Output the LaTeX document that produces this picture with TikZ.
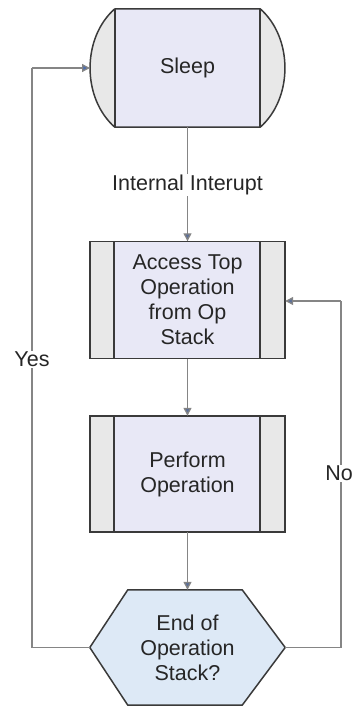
\documentclass[tikz,border=0pt]{standalone}
\usepackage{fontspec}
\setmainfont{Liberation Sans}
\usetikzlibrary{arrows.meta}
\definecolor{boxfill}{HTML}{E8E8F6}
\definecolor{sidefill}{HTML}{E8E8E8}
\definecolor{hexfill}{HTML}{DDE9F6}
\definecolor{edge}{HTML}{3A3A3A}
\definecolor{conn}{HTML}{858585}
\definecolor{tip}{HTML}{5B6F98}
\definecolor{bluetip}{HTML}{4A6CB0}
\tikzset{
  txt/.style={font=\fontsize{21.5}{25}\selectfont, align=center, text=black!85},
  procbox/.style={txt, rectangle, minimum width=195pt, minimum height=117pt, inner sep=0pt},
  conn/.style={draw=conn, line width=1.3pt, -{Triangle[width=8pt,length=8pt,fill=tip]}, shorten >=0pt},
  plain/.style={draw=conn, line width=1.3pt},
  lbl/.style={txt, fill=white, inner sep=1pt},
  outline/.style={draw=edge, line width=1.5pt}
}
\begin{document}
\begin{tikzpicture}[x=1pt,y=-1pt]
\useasboundingbox (0,0) rectangle (357,707);

% Sleep (terminator with curved ends)
\node[procbox, minimum width=145pt, minimum height=118pt] (sleep) at (187.5,68) {};
\fill[sidefill] (sleep.north west) .. controls ++(-33,29) and ++(-33,-29) .. (sleep.south west) -- cycle;
\fill[sidefill] (sleep.north east) .. controls ++(33,29) and ++(33,-29) .. (sleep.south east) -- cycle;
\fill[boxfill] (sleep.north west) rectangle (sleep.south east);
\draw[outline] (sleep.north west) -- (sleep.north east)
  .. controls ++(33,29) and ++(33,-29) .. (sleep.south east)
  -- (sleep.south west)
  .. controls ++(-33,-29) and ++(-33,29) .. (sleep.north west);
\draw[outline] (sleep.north west) -- (sleep.south west);
\draw[outline] (sleep.north east) -- (sleep.south east);
\node[txt] (sleeptext) at (sleep.center) {Sleep};
\coordinate (sleepin) at (90,68);

% Access Top Operation
\node[procbox] (access) at (187.5,300) {};
\fill[sidefill] (access.north west) rectangle (access.south east);
\fill[boxfill] ([xshift=24pt]access.north west) rectangle ([xshift=-25pt]access.south east);
\draw[outline] (access.north west) rectangle (access.south east);
\draw[outline] ([xshift=24pt]access.north west) -- ([xshift=24pt]access.south west);
\draw[outline] ([xshift=-25pt]access.north east) -- ([xshift=-25pt]access.south east);
\node[txt] (accesstext) at (access.center) {Access Top\\Operation\\from Op\\Stack};

% Perform Operation
\node[procbox, minimum height=116pt] (perform) at (187.5,474) {};
\fill[sidefill] (perform.north west) rectangle (perform.south east);
\fill[boxfill] ([xshift=24pt]perform.north west) rectangle ([xshift=-25pt]perform.south east);
\draw[outline] (perform.north west) rectangle (perform.south east);
\draw[outline] ([xshift=24pt]perform.north west) -- ([xshift=24pt]perform.south west);
\draw[outline] ([xshift=-25pt]perform.north east) -- ([xshift=-25pt]perform.south east);
\node[txt] (performtext) at (perform.center) {Perform\\Operation};

% Decision hexagon
\node[procbox, minimum height=115pt] (hex) at (187.5,647.5) {};
\draw[outline, fill=hexfill] (hex.west) -- ([xshift=38pt]hex.north west) -- ([xshift=-43pt]hex.north east)
  -- (hex.east) -- ([xshift=-43pt]hex.south east) -- ([xshift=38pt]hex.south west) -- cycle;
\node[txt] (hextext) at (hex.center) {End of\\Operation\\Stack?};

% Connectors
\draw[conn] (sleep.south) -- (access.north);
\node[lbl] (intlbl) at (187.5,185) {Internal Interupt};
\draw[conn] (access.south) -- (perform.north);
\draw[conn] (perform.south) -- (hex.north);

\coordinate (yl1) at (32,647.5);
\coordinate (yl2) at (32,68);
\draw[plain] (hex.west) -- (yl1) -- (yl2);
\draw[draw=conn, line width=1.3pt, -{Triangle[width=8pt,length=8pt,fill=bluetip]}] (yl2) -- (sleepin);
\node[lbl] (yes) at (32,359) {Yes};

\coordinate (nl1) at (341,647.5);
\coordinate (nl2) at (341,301);
\draw[plain] (hex.east) -- (nl1) -- (nl2);
\draw[draw=conn, line width=1.3pt, -{Triangle[width=8pt,length=8pt,fill=tip]}] (nl2) -- (access.east |- nl2);
\node[lbl] (no) at (339,473) {No};
\end{tikzpicture}
\end{document}
